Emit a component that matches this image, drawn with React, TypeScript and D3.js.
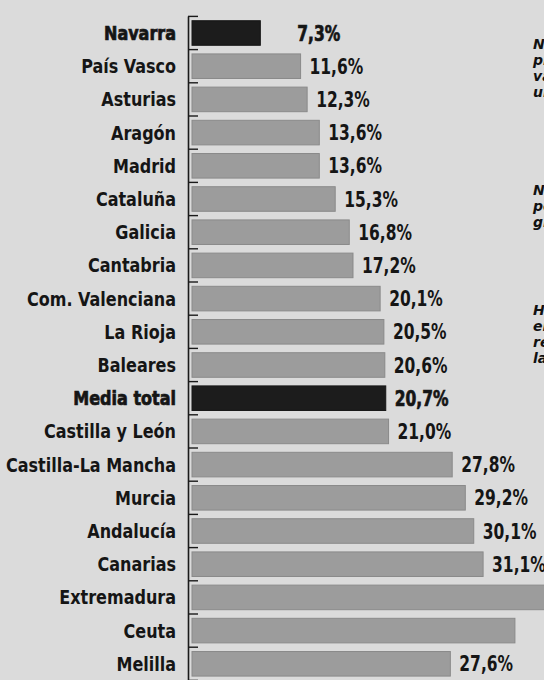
import React from "react";
import * as d3 from "d3";

const categories = [
  "Navarra", "País Vasco", "Asturias", "Aragón", "Madrid", "Cataluña", "Galicia",
  "Cantabria", "Com. Valenciana", "La Rioja", "Baleares", "Media total",
  "Castilla y León", "Castilla-La Mancha", "Murcia", "Andalucía", "Canarias",
  "Extremadura", "Ceuta", "Melilla",
];
const values = [
  7.3, 11.6, 12.3, 13.6, 13.6, 15.3, 16.8, 17.2, 20.1, 20.5, 20.6, 20.7,
  21.0, 27.8, 29.2, 30.1, 31.1, 38.2, 34.5, 27.6,
];
const highlighted = ["Navarra", "Media total"];
const sideNotes = [
  ["Navarra", "presenta", "valores", "un"],
  ["No", "por", "gran"],
  ["Hay", "en", "regiones", "las"],
];

const W = 544;
const H = 680;

export default function App() {
  const x = d3.scaleLinear().domain([0, 10]).range([192, 285.6]);
  const y = d3
    .scaleBand<string>()
    .domain(categories)
    .range([16.4, 16.4 + 33.2 * categories.length])
    .paddingInner(0.26)
    .paddingOuter(0.13);
  const step = y.step();
  const font = "'DejaVu Sans Condensed', 'Liberation Sans Narrow', sans-serif";
  const fmt = (v: number) => d3.format(".1f")(v).replace(".", ",") + "%";
  const noteTops = [49, 195, 315];
  const labelW = (s: string) => s.length * 10;

  return (
    <div style={{ position: "fixed", left: 0, top: 0, width: W, height: H }}>
      <svg width={W} height={H} style={{ display: "block", background: "#dbdbdb" }}>
        <rect x={0} y={0} width={W} height={H} fill="#dbdbdb" />
        {categories.map((c, i) => {
          const hi = highlighted.includes(c);
          const cy = (y(c) as number) + y.bandwidth() / 2;
          const dx = c === "Navarra" ? 37 : 9;
          const lx = x(values[i]) + dx;
          const lab = fmt(values[i]);
          const fits = lx + labelW(lab) <= W + 6;
          return (
            <g key={c}>
              <rect
                x={x(0)}
                y={y(c)}
                width={x(values[i]) - x(0)}
                height={y.bandwidth()}
                fill={hi ? "#1c1c1c" : "#9c9c9c"}
                stroke={hi ? "#161616" : "#8a8a8a"}
                strokeWidth={1}
              />
              <text
                transform={`translate(176,${cy + 7}) scale(0.89,1)`}
                textAnchor="end"
                fontFamily={font}
                fontWeight="bold"
                fontSize={20}
                fill="#151515"
                stroke={hi ? "#151515" : "none"}
                strokeWidth={hi ? 0.7 : 0}
              >
                {c}
              </text>
              {fits && (
                <text
                  transform={`translate(${lx},${cy + 7.5}) scale(0.82,1)`}
                  fontFamily={font}
                  fontWeight="bold"
                  fontSize={21}
                  fill="#151515"
                  stroke={hi ? "#151515" : "none"}
                  strokeWidth={hi ? 0.7 : 0}
                >
                  {lab}
                </text>
              )}
            </g>
          );
        })}
        <line x1={188.5} x2={188.5} y1={y.range()[0]} y2={H} stroke="#1a1a1a" strokeWidth={1.6} />
        {d3.range(categories.length + 1).map((k) => {
          const ty = y.range()[0] + k * step;
          return (
            <line key={k} x1={188} x2={198} y1={ty} y2={ty} stroke="#1a1a1a" strokeWidth={1.4} />
          );
        })}
        {sideNotes.map((lines, b) =>
          lines.map((t, j) => (
            <text
              key={b + "-" + j}
              x={533}
              y={noteTops[b] + j * 16}
              fontFamily="'DejaVu Sans', sans-serif"
              fontWeight="bold"
              fontStyle="italic"
              fontSize={14}
              fill="#111"
            >
              {t}
            </text>
          ))
        )}
      </svg>
    </div>
  );
}
